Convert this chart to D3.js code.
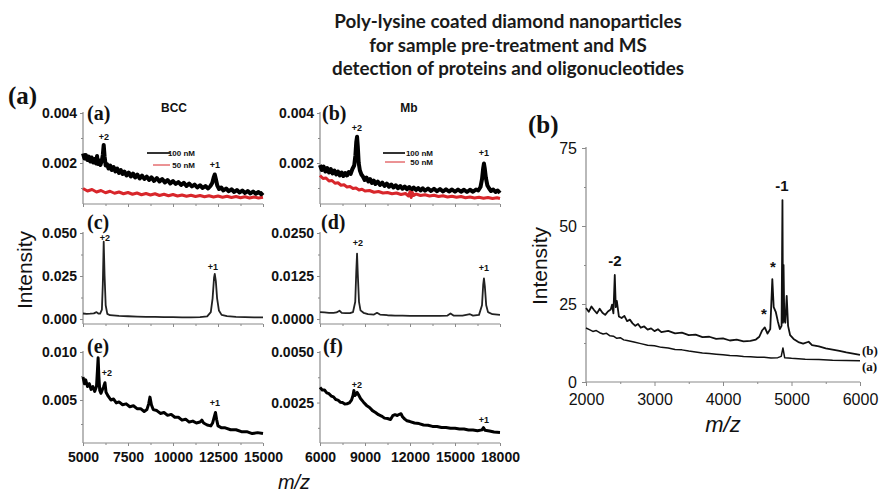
<!DOCTYPE html>
<html><head><meta charset="utf-8">
<script src="https://cdn.jsdelivr.net/npm/d3@7/dist/d3.min.js"></script>
<style>body{margin:0;background:#fff}svg{display:block}</style>
</head><body>
<svg id="c" width="881" height="493"></svg>
<script>
// ---------- Titles / labels ----------
const titleLines = ["Poly-lysine coated diamond nanoparticles", "for sample pre-treatment and MS", "detection of proteins and oligonucleotides"];
const legendLabels = ["100 nM", "50 nM"];

// ---------- Tick values ----------
const xTicksBCC = [5000, 7500, 10000, 12500, 15000];
const xMinorBCC = [6250, 8750, 11250, 13750];
const xTicksMb = [6000, 9000, 12000, 15000, 18000];
const xMinorMb = [7500, 10500, 13500, 16500];
const xTicksDNA = [2000, 3000, 4000, 5000, 6000];
const xMinorDNA = [2500, 3500, 4500, 5500];
const yTicksDNA = [0, 25, 50, 75];
const yMinorDNA = [12.5, 37.5, 62.5];

// ---------- Series: [m/z, intensity] ----------
const bcc100 = [[5000,0.00238],[5080,0.00218],[5160,0.00232],[5240,0.00212],[5320,0.00226],[5400,0.00206],[5480,0.00222],[5560,0.00202],[5640,0.00216],[5720,0.00198],[5780,0.00228],[5830,0.00196],[5900,0.00210],[5970,0.00192],[6040,0.00208],[6100,0.00232],[6150,0.00272],[6200,0.00226],[6260,0.00190],[6330,0.00196],[6420,0.00178],[6510,0.00190],[6600,0.00172],[6700,0.00184],[6800,0.00166],[6900,0.00178],[7000,0.00160],[7100,0.00172],[7200,0.00156],[7300,0.00166],[7420,0.00150],[7540,0.00162],[7660,0.00146],[7780,0.00158],[7900,0.00142],[8020,0.00154],[8150,0.00138],[8280,0.00150],[8410,0.00136],[8540,0.00146],[8670,0.00132],[8800,0.00143],[8950,0.00128],[9100,0.00140],[9250,0.00126],[9400,0.00136],[9550,0.00122],[9700,0.00132],[9850,0.00118],[10000,0.00128],[10150,0.00116],[10300,0.00124],[10450,0.00112],[10600,0.00121],[10750,0.00108],[10900,0.00118],[11050,0.00106],[11200,0.00114],[11350,0.00102],[11500,0.00111],[11650,0.00100],[11800,0.00108],[11950,0.00098],[12080,0.00108],[12180,0.00120],[12260,0.00142],[12320,0.00154],[12380,0.00136],[12460,0.00110],[12560,0.00096],[12680,0.00102],[12800,0.00090],[12950,0.00098],[13100,0.00087],[13250,0.00095],[13400,0.00084],[13550,0.00092],[13700,0.00082],[13850,0.00090],[14000,0.00080],[14150,0.00088],[14300,0.00078],[14450,0.00086],[14600,0.00077],[14750,0.00084],[14900,0.00075],[15000,0.00082]];
const bcc50 = [[5000,0.00098],[5250,0.00088],[5500,0.00094],[5750,0.00084],[6000,0.00090],[6250,0.00081],[6500,0.00087],[6750,0.00079],[7000,0.00084],[7250,0.00077],[7500,0.00082],[7750,0.00075],[8000,0.00080],[8250,0.00073],[8500,0.00078],[8750,0.00072],[9000,0.00077],[9250,0.00070],[9500,0.00075],[9750,0.00069],[10000,0.00074],[10250,0.00068],[10500,0.00072],[10750,0.00067],[11000,0.00071],[11250,0.00066],[11500,0.00070],[11750,0.00065],[12000,0.00069],[12250,0.00064],[12500,0.00068],[12750,0.00063],[13000,0.00067],[13250,0.00062],[13500,0.00066],[13750,0.00061],[14000,0.00065],[14250,0.00060],[14500,0.00064],[14750,0.00060],[15000,0.00063]];
const mb100 = [[6000,0.00192],[6120,0.00172],[6240,0.00186],[6360,0.00166],[6480,0.00180],[6600,0.00162],[6720,0.00176],[6840,0.00158],[6960,0.00170],[7080,0.00154],[7200,0.00166],[7320,0.00150],[7440,0.00162],[7560,0.00148],[7680,0.00160],[7800,0.00150],[7920,0.00164],[8040,0.00156],[8160,0.00176],[8280,0.00190],[8360,0.00230],[8420,0.00285],[8470,0.00305],[8520,0.00265],[8580,0.00200],[8660,0.00170],[8760,0.00154],[8860,0.00146],[8980,0.00132],[9100,0.00142],[9220,0.00126],[9340,0.00136],[9460,0.00120],[9580,0.00130],[9700,0.00116],[9850,0.00126],[10000,0.00112],[10150,0.00122],[10300,0.00108],[10450,0.00118],[10600,0.00105],[10750,0.00114],[10900,0.00102],[11050,0.00111],[11200,0.00099],[11350,0.00108],[11500,0.00097],[11650,0.00106],[11800,0.00095],[11950,0.00104],[12100,0.00093],[12250,0.00102],[12400,0.00092],[12550,0.00100],[12700,0.00090],[12850,0.00099],[13000,0.00089],[13200,0.00098],[13400,0.00088],[13600,0.00097],[13800,0.00087],[14000,0.00096],[14200,0.00086],[14400,0.00095],[14600,0.00086],[14800,0.00094],[15000,0.00085],[15200,0.00094],[15400,0.00085],[15600,0.00093],[15800,0.00084],[16000,0.00093],[16200,0.00085],[16400,0.00094],[16550,0.00090],[16700,0.00104],[16800,0.00135],[16880,0.00180],[16930,0.00198],[16980,0.00180],[17060,0.00140],[17160,0.00110],[17280,0.00098],[17400,0.00088],[17550,0.00094],[17700,0.00084],[17850,0.00090],[18000,0.00080]];
const mb50 = [[6000,0.00150],[6200,0.00138],[6400,0.00140],[6600,0.00128],[6800,0.00130],[7000,0.00119],[7200,0.00121],[7400,0.00111],[7600,0.00113],[7800,0.00104],[8000,0.00106],[8200,0.00098],[8400,0.00100],[8600,0.00092],[8800,0.00095],[9000,0.00088],[9300,0.00090],[9600,0.00083],[9900,0.00086],[10200,0.00080],[10500,0.00082],[10800,0.00077],[11100,0.00080],[11400,0.00074],[11700,0.00078],[11900,0.00068],[12000,0.00085],[12080,0.00062],[12160,0.00082],[12250,0.00070],[12400,0.00076],[12700,0.00070],[13000,0.00073],[13300,0.00068],[13600,0.00071],[13900,0.00066],[14200,0.00069],[14500,0.00064],[14800,0.00067],[15100,0.00063],[15400,0.00066],[15700,0.00061],[16000,0.00064],[16300,0.00060],[16600,0.00063],[16900,0.00059],[17200,0.00062],[17500,0.00058],[17800,0.00061],[18000,0.00058]];
const bccNP = [[5000,0.0032],[5200,0.0030],[5400,0.0031],[5600,0.0033],[5750,0.0040],[5850,0.0032],[5950,0.0031],[6050,0.0055],[6100,0.0200],[6150,0.0450],[6200,0.0250],[6260,0.0080],[6350,0.0030],[6500,0.0022],[7000,0.0018],[7500,0.0016],[8000,0.0014],[8500,0.0013],[9000,0.0012],[9500,0.0011],[10000,0.0011],[10500,0.0010],[11000,0.0010],[11500,0.0011],[11900,0.0015],[12100,0.0040],[12200,0.0120],[12280,0.0240],[12320,0.0262],[12380,0.0220],[12450,0.0120],[12550,0.0050],[12700,0.0024],[13000,0.0017],[13500,0.0013],[14000,0.0011],[14500,0.0010],[15000,0.0010]];
const mbNP = [[6000,0.0020],[6300,0.0019],[6600,0.0018],[6900,0.0018],[7100,0.0019],[7300,0.0024],[7450,0.0018],[7700,0.0017],[8000,0.0017],[8200,0.0020],[8350,0.0050],[8420,0.0140],[8470,0.0190],[8520,0.0130],[8600,0.0050],[8700,0.0025],[8900,0.0018],[9200,0.0014],[9600,0.0013],[9800,0.0018],[10000,0.0013],[10500,0.0011],[11000,0.0010],[11500,0.0010],[12000,0.0009],[12500,0.0009],[13000,0.0009],[13500,0.0009],[14000,0.0009],[14500,0.0010],[14700,0.0016],[14900,0.0010],[15500,0.0010],[16000,0.0014],[16200,0.0010],[16600,0.0012],[16800,0.0040],[16880,0.0100],[16930,0.0118],[16990,0.0095],[17080,0.0040],[17200,0.0020],[17500,0.0014],[18000,0.0012]];
const bccMix = [[5000,0.0074],[5080,0.0067],[5150,0.0071],[5250,0.0064],[5350,0.0067],[5450,0.0061],[5550,0.0064],[5650,0.0059],[5750,0.0064],[5800,0.0080],[5840,0.0094],[5880,0.0075],[5930,0.0060],[6000,0.0057],[6080,0.0061],[6150,0.0064],[6220,0.0068],[6280,0.0058],[6400,0.0054],[6550,0.0050],[6700,0.0051],[6850,0.0047],[7000,0.0048],[7200,0.0045],[7400,0.0046],[7600,0.0043],[7800,0.0044],[8000,0.0041],[8200,0.0041],[8400,0.0038],[8550,0.0040],[8650,0.0046],[8720,0.0053],[8800,0.0045],[8900,0.0040],[9100,0.0039],[9300,0.0036],[9500,0.0037],[9700,0.0034],[9900,0.0035],[10100,0.0032],[10300,0.0032],[10500,0.0029],[10700,0.0030],[10900,0.0027],[11100,0.0028],[11300,0.0026],[11500,0.0027],[11600,0.0029],[11700,0.0026],[11900,0.0024],[12100,0.0023],[12200,0.0026],[12300,0.0033],[12360,0.0037],[12420,0.0030],[12500,0.0023],[12700,0.0021],[12900,0.0021],[13200,0.0019],[13500,0.0019],[13800,0.0017],[14100,0.0017],[14400,0.0015],[14700,0.0016],[15000,0.0015]];
const mbMix = [[6000,0.00325],[6150,0.00312],[6300,0.00312],[6450,0.00298],[6600,0.00294],[6750,0.00282],[6900,0.00278],[7050,0.00265],[7200,0.00262],[7350,0.00252],[7500,0.00250],[7650,0.00243],[7800,0.00244],[7950,0.00248],[8100,0.00262],[8200,0.00285],[8260,0.00310],[8320,0.00285],[8400,0.00290],[8480,0.00300],[8560,0.00290],[8700,0.00270],[8900,0.00252],[9100,0.00236],[9300,0.00226],[9500,0.00210],[9700,0.00201],[9900,0.00190],[10100,0.00183],[10300,0.00173],[10500,0.00171],[10700,0.00166],[10850,0.00185],[11000,0.00190],[11150,0.00186],[11300,0.00192],[11400,0.00195],[11500,0.00180],[11650,0.00168],[11800,0.00160],[12000,0.00156],[12300,0.00149],[12600,0.00146],[12900,0.00139],[13200,0.00138],[13500,0.00132],[13800,0.00132],[14100,0.00127],[14400,0.00127],[14700,0.00123],[15000,0.00123],[15300,0.00119],[15600,0.00119],[15900,0.00114],[16200,0.00114],[16500,0.00111],[16800,0.00115],[16900,0.00126],[17000,0.00113],[17300,0.00109],[17600,0.00104],[18000,0.00102]];
const dnaB = [[2000,23.7],[2040,22.5],[2080,24.2],[2120,23.0],[2160,22.0],[2200,23.5],[2240,22.2],[2280,21.5],[2320,22.6],[2360,23.2],[2380,24.8],[2400,22.0],[2420,34.3],[2435,24.0],[2450,26.0],[2480,21.0],[2520,20.5],[2560,21.2],[2600,19.5],[2640,20.0],[2680,18.8],[2720,18.0],[2760,18.6],[2800,17.4],[2850,17.8],[2900,16.8],[2950,17.2],[3000,16.3],[3050,16.9],[3100,16.0],[3200,16.4],[3300,15.6],[3400,15.8],[3500,15.0],[3600,15.2],[3700,14.4],[3800,14.5],[3900,13.8],[4000,14.0],[4100,13.3],[4200,13.6],[4300,13.0],[4400,13.2],[4480,13.6],[4530,14.5],[4570,16.5],[4610,17.5],[4650,15.5],[4690,17.0],[4720,33.0],[4740,24.0],[4770,22.5],[4800,19.5],[4830,17.0],[4855,18.0],[4868,58.3],[4876,19.0],[4884,37.5],[4895,20.0],[4910,19.0],[4930,27.6],[4950,18.0],[4980,15.0],[5030,13.8],[5100,12.8],[5170,12.3],[5250,12.9],[5300,11.8],[5400,11.4],[5500,10.8],[5600,10.4],[5700,10.0],[5800,9.5],[5900,9.1],[6000,8.7]];
const dnaA = [[2000,17.3],[2050,16.8],[2100,16.2],[2150,16.5],[2200,15.8],[2250,15.4],[2300,15.6],[2350,14.8],[2400,14.7],[2450,14.0],[2500,14.2],[2550,13.5],[2600,13.3],[2700,12.8],[2800,12.3],[2900,11.8],[3000,11.6],[3100,11.1],[3200,10.9],[3300,10.4],[3400,10.3],[3500,9.9],[3600,9.6],[3700,9.3],[3800,9.1],[3900,8.9],[4000,8.7],[4100,8.5],[4200,8.4],[4300,8.2],[4400,8.1],[4500,7.9],[4600,7.9],[4700,7.7],[4800,7.8],[4850,8.2],[4875,10.9],[4900,7.8],[5000,7.6],[5200,7.3],[5400,7.2],[5600,7.0],[5800,6.9],[6000,6.8]];

// ---------- Drawing ----------
const svg = d3.select('#c');
const AX = '#8a8a8a';
const SANS = "'Liberation Sans', Arial, sans-serif";
const SERIF = "'Liberation Serif', 'Times New Roman', serif";

function drawPanel(p) {
  const x = d3.scaleLinear().domain(p.xDomain).range([p.left, p.right]);
  const y = d3.scaleLinear().domain(p.yDomain).range([p.bottom, p.top]);
  const g = svg.append('g');
  const ya = g.append('g').attr('transform', `translate(${p.left},0)`)
    .call(d3.axisLeft(y).tickValues(p.yTicks).tickFormat(d3.format(p.yFmt)).tickSize(p.tickSize).tickPadding(p.tickPad).tickSizeOuter(0));
  ya.select('.domain').remove();
  ya.selectAll('line').attr('stroke', AX);
  ya.selectAll('text').attr('font-family', SANS).attr('font-size', p.fs).attr('font-weight', p.fw).attr('fill', '#111');
  g.append('g').attr('transform', `translate(${p.left},0)`)
    .call(d3.axisLeft(y).tickValues(p.yMinor).tickFormat('').tickSize(p.minorSize).tickSizeOuter(0))
    .call(s => { s.select('.domain').remove(); s.selectAll('line').attr('stroke', AX); });
  const xa = g.append('g').attr('transform', `translate(0,${p.bottom})`)
    .call(d3.axisBottom(x).tickValues(p.xTicks).tickFormat(p.showX ? d3.format('d') : '').tickSize(p.tickSize).tickPadding(p.xPad).tickSizeOuter(0));
  xa.select('.domain').remove();
  xa.selectAll('line').attr('stroke', AX);
  xa.selectAll('text').attr('font-family', SANS).attr('font-size', p.fs).attr('font-weight', p.fw).attr('fill', '#111');
  g.append('g').attr('transform', `translate(0,${p.bottom})`)
    .call(d3.axisBottom(x).tickValues(p.xMinor).tickFormat('').tickSize(p.minorSize).tickSizeOuter(0))
    .call(s => { s.select('.domain').remove(); s.selectAll('line').attr('stroke', AX); });
  g.append('line').attr('x1', p.left).attr('x2', p.left).attr('y1', p.top - 1).attr('y2', p.bottom).attr('stroke', AX).attr('stroke-width', 1.2);
  g.append('line').attr('x1', p.left).attr('x2', p.right).attr('y1', p.bottom).attr('y2', p.bottom).attr('stroke', AX).attr('stroke-width', 1.2);
  const line = d3.line().x(d => x(d[0])).y(d => y(Math.max(d[1], p.yDomain[0])));
  p.series.forEach(s => {
    g.append('path').datum(s.data).attr('d', line).attr('fill', 'none')
      .attr('stroke', s.color).attr('stroke-width', s.width).attr('stroke-linejoin', 'round').attr('opacity', s.op || 1);
  });
  return { x, y };
}

const rows = [{ top: 113, bottom: 204 }, { top: 233, bottom: 324 }, { top: 352, bottom: 443 }];
const col1 = { left: 83, right: 263 };
const col2 = { left: 320, right: 500 };
const small = { tickSize: 3, minorSize: 2, tickPad: 3, xPad: 6, fs: 14, fw: 'bold' };

drawPanel(Object.assign({}, small, col1, rows[0], { xDomain: [5000, 15000], yDomain: [0.00036, 0.004], yTicks: [0.002, 0.004], yMinor: [0.001, 0.003], yFmt: '.3f', xTicks: xTicksBCC, xMinor: xMinorBCC, showX: false,
  series: [{ data: bcc50, color: '#d8262b', width: 3 }, { data: bcc100, color: '#000', width: 4 }] }));
drawPanel(Object.assign({}, small, col2, rows[0], { xDomain: [6000, 18000], yDomain: [0.00036, 0.004], yTicks: [0.002, 0.004], yMinor: [0.001, 0.003], yFmt: '.3f', xTicks: xTicksMb, xMinor: xMinorMb, showX: false,
  series: [{ data: mb100, color: '#000', width: 4 }, { data: mb50, color: '#d8262b', width: 3 }] }));
drawPanel(Object.assign({}, small, col1, rows[1], { xDomain: [5000, 15000], yDomain: [-0.0029, 0.05], yTicks: [0, 0.025, 0.05], yMinor: [0.0125, 0.0375], yFmt: '.3f', xTicks: xTicksBCC, xMinor: xMinorBCC, showX: false,
  series: [{ data: bccNP, color: '#222', width: 1.8 }] }));
drawPanel(Object.assign({}, small, col2, rows[1], { xDomain: [6000, 18000], yDomain: [-0.00145, 0.025], yTicks: [0, 0.0125, 0.025], yMinor: [0.00625, 0.01875], yFmt: '.4f', xTicks: xTicksMb, xMinor: xMinorMb, showX: false,
  series: [{ data: mbNP, color: '#222', width: 1.8 }] }));
drawPanel(Object.assign({}, small, col1, rows[2], { xDomain: [5000, 15000], yDomain: [0.00052, 0.010], yTicks: [0.005, 0.010], yMinor: [0.0025, 0.0075], yFmt: '.3f', xTicks: xTicksBCC, xMinor: xMinorBCC, showX: true,
  series: [{ data: bccMix, color: '#000', width: 3 }] }));
drawPanel(Object.assign({}, small, col2, rows[2], { xDomain: [6000, 18000], yDomain: [0.0005, 0.005], yTicks: [0.0025, 0.005], yMinor: [0.00125, 0.00375], yFmt: '.4f', xTicks: xTicksMb, xMinor: xMinorMb, showX: true,
  series: [{ data: mbMix, color: '#000', width: 3 }] }));

drawPanel({ left: 586, right: 860, top: 148, bottom: 382, xDomain: [2000, 6000], yDomain: [0, 75], yTicks: yTicksDNA, yMinor: yMinorDNA, yFmt: 'd', xTicks: xTicksDNA, xMinor: xMinorDNA, showX: true,
  tickSize: 4, minorSize: 2, tickPad: 5, xPad: 8, fs: 16, fw: 'normal',
  series: [{ data: dnaA, color: '#111', width: 1.5 }, { data: dnaB, color: '#111', width: 1.8 }] });

// ---------- Texts ----------
function txt(x, y, s, o) {
  o = o || {};
  const t = svg.append('text').attr('x', x).attr('y', y).text(s)
    .attr('font-family', o.ff || SANS).attr('font-size', o.fs || 10)
    .attr('font-weight', o.fw || 'bold').attr('text-anchor', o.anchor || 'start')
    .attr('fill', o.fill || '#111');
  if (o.italic) t.attr('font-style', 'italic');
  if (o.rotate) t.attr('transform', `rotate(-90,${x},${y})`);
  return t;
}
titleLines.forEach((l, i) => txt(508, 28 + i * 23.5, l, { ff: "Lato, 'Open Sans', sans-serif", fs: 18.8, anchor: 'middle', fill: '#1a1a1a' }));
txt(8, 104, '(a)', { ff: SERIF, fs: 25 });
txt(528, 133, '(b)', { ff: SERIF, fs: 25 });
txt(87, 120, '(a)', { ff: SERIF, fs: 20 });
txt(322, 120, '(b)', { ff: SERIF, fs: 20 });
txt(87, 229, '(c)', { ff: SERIF, fs: 20 });
txt(321, 229, '(d)', { ff: SERIF, fs: 20 });
txt(87, 353, '(e)', { ff: SERIF, fs: 20 });
txt(323, 353, '(f)', { ff: SERIF, fs: 20 });
txt(174, 112, 'BCC', { fs: 12, anchor: 'middle' });
txt(409, 112, 'Mb', { fs: 12, anchor: 'middle' });
svg.append('line').attr('x1', 147).attr('x2', 170).attr('y1', 153).attr('y2', 153).attr('stroke', '#000').attr('stroke-width', 1.6);
svg.append('line').attr('x1', 153).attr('x2', 170).attr('y1', 165).attr('y2', 165).attr('stroke', '#d8262b').attr('stroke-width', 1);
txt(195, 156, legendLabels[0], { fs: 8, anchor: 'end' });
txt(195, 168, legendLabels[1], { fs: 8, anchor: 'end' });
svg.append('line').attr('x1', 383).attr('x2', 405).attr('y1', 153).attr('y2', 153).attr('stroke', '#000').attr('stroke-width', 1.6);
svg.append('line').attr('x1', 385).attr('x2', 405).attr('y1', 162).attr('y2', 162).attr('stroke', '#d8262b').attr('stroke-width', 1);
txt(433, 156, legendLabels[0], { fs: 8, anchor: 'end' });
txt(433, 165, legendLabels[1], { fs: 8, anchor: 'end' });
const ch = { fs: 9, anchor: 'middle' };
txt(104, 140, '+2', ch); txt(215, 168, '+1', ch);
txt(357, 131, '+2', ch); txt(484, 156, '+1', ch);
txt(105, 241, '+2', ch); txt(213, 270, '+1', ch);
txt(358, 246, '+2', ch); txt(484, 271, '+1', ch);
txt(107, 376, '+2', ch); txt(215, 406, '+1', ch);
txt(357, 388, '+2', ch); txt(484, 423, '+1', ch);
txt(615, 266, '-2', { fs: 15, anchor: 'middle' });
txt(782, 191, '-1', { fs: 15, anchor: 'middle' });
txt(773, 272, '*', { fs: 15, anchor: 'middle' });
txt(764, 319, '*', { fs: 15, anchor: 'middle' });
txt(862, 355, '(b)', { ff: SERIF, fs: 13 });
txt(862, 371, '(a)', { ff: SERIF, fs: 13 });
txt(32, 270, 'Intensity', { fs: 21, fw: 'normal', anchor: 'middle', rotate: true });
txt(547, 266, 'Intensity', { fs: 21, fw: 'normal', anchor: 'middle', rotate: true });
txt(294, 489, 'm/z', { fs: 20, fw: 'normal', anchor: 'middle', italic: true });
txt(723, 432, 'm/z', { fs: 22, fw: 'normal', anchor: 'middle', italic: true });
</script>
</body></html>
